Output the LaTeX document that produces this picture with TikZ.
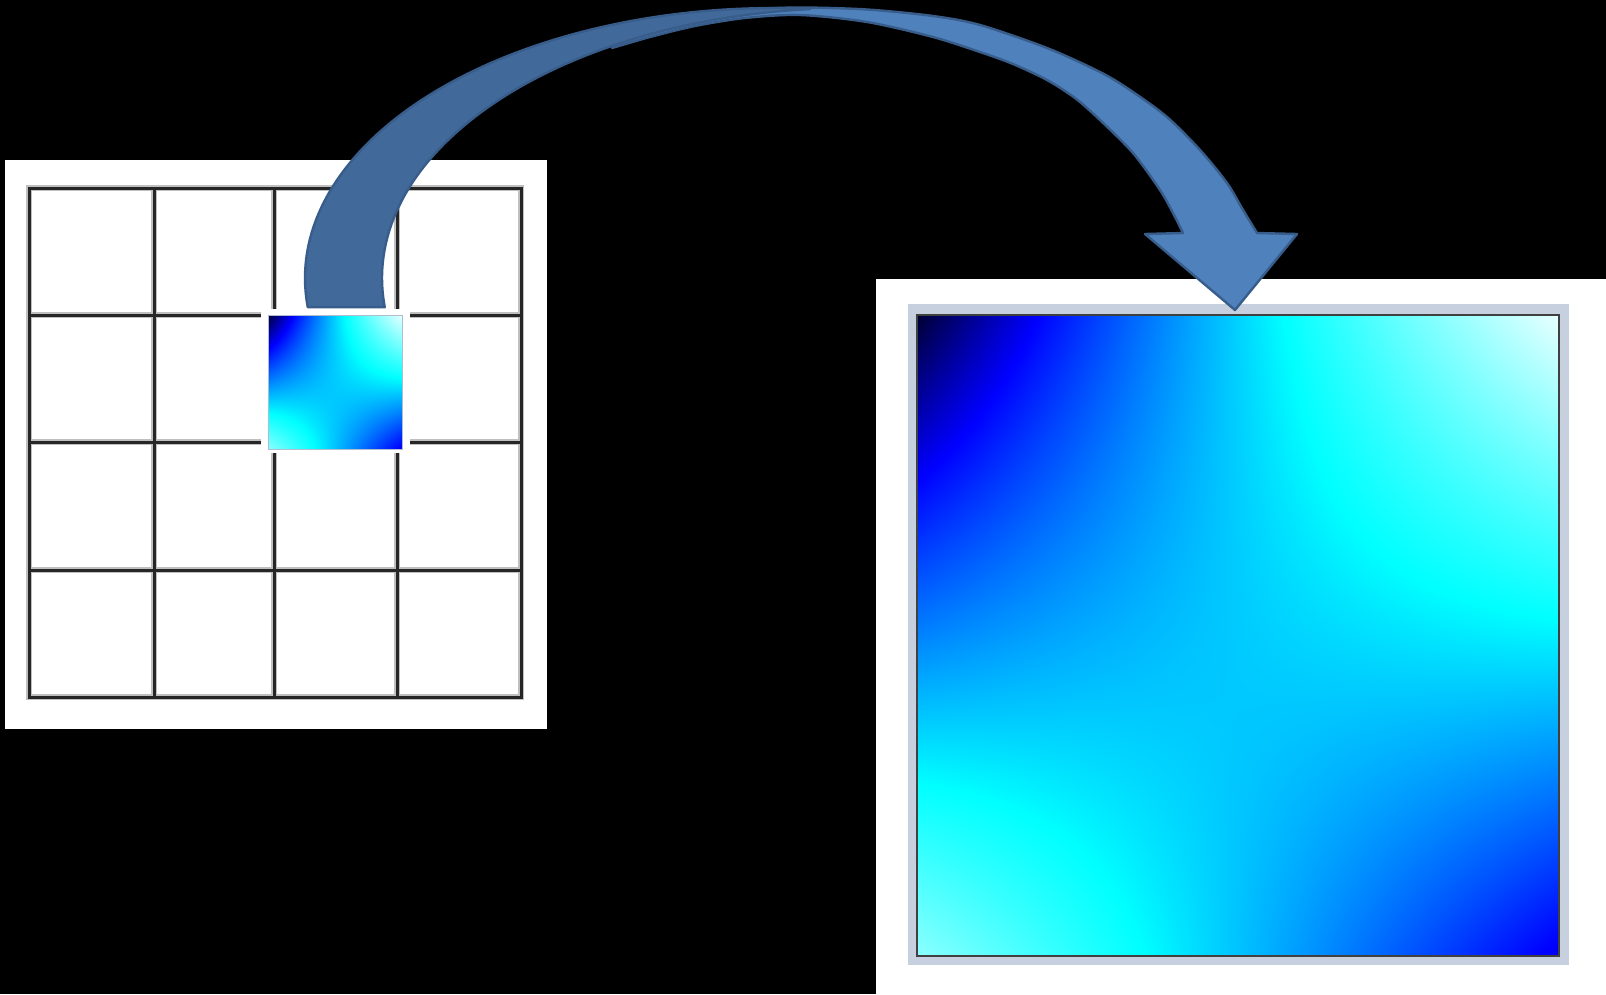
\documentclass[tikz,border=0pt]{standalone}
\definecolor{darkband}{HTML}{41699A}
\definecolor{lightband}{HTML}{4F81BD}
\definecolor{arrowline}{HTML}{385D8A}
\definecolor{framecol}{HTML}{C6D0DE}
\definecolor{smallframe}{HTML}{AFBDCF}
\pgfdeclarefunctionalshading{heatsq}{\pgfpoint{-50bp}{-50bp}}{\pgfpoint{50bp}{50bp}}{}{
25 add 50 div exch 25 add 50 div
2 copy dup 1 exch sub mul mul 0.2 mul
3 1 roll
2 copy mul 3 1 roll
-0.65 mul 0.85 add
exch 1 exch sub mul add
add
dup 0.62 sub 2.4 mul
dup 0 lt {pop 0} if dup 1 gt {pop 1} if
exch
dup 0.22 sub 2.5 mul
dup 0 lt {pop 0} if dup 1 gt {pop 1} if
exch
3.64 mul 0.2 add
dup 0 lt {pop 0} if dup 1 gt {pop 1} if
}
\begin{document}
\begin{tikzpicture}[x=1pt,y=-1pt,
  gridhalo/.style={line width=5.5pt, draw=black!25, line cap=rect},
  gridline/.style={line width=3pt, draw=black!85, line cap=rect},
  bandstyle/.style={draw=arrowline, line width=2.4pt, line join=round},
]
\fill[black] (0,0) rectangle (1606,994);
\useasboundingbox (0,0) rectangle (1606,994);
% left panel with 4x4 grid
\fill[white] (5,160) rectangle (547,729);
\foreach \v in {29,154,274,397,521}{\draw[gridhalo] (\v,188) -- (\v,697);}
\foreach \h in {188,315,442,570,697}{\draw[gridhalo] (29,\h) -- (521,\h);}
\foreach \v in {29,154,274,397,521}{\draw[gridline] (\v,188) -- (\v,697);}
\foreach \h in {188,315,442,570,697}{\draw[gridline] (29,\h) -- (521,\h);}
% small gradient cell
\fill[white] (261,309) rectangle (410,453);
\shade[shading=heatsq] (268,315) rectangle (402,449);
\draw[smallframe, line width=1pt] (268,315) rectangle (402,449);
\coordinate (small) at (335,382);
% right panel with enlarged gradient
\fill[white] (876,279) rectangle (1606,994);
\fill[framecol] (908,304) rectangle (1569,965);
\shade[shading=heatsq] (917,315) rectangle (1559,956);
\draw[black!75, line width=1.3pt] (917,315) rectangle (1559,956);
\coordinate (big) at (1238,635);
% curved arrow: front (light) band with head
\filldraw[fill=lightband, bandstyle]
  plot[smooth, tension=0.5] coordinates {(690,14) (745,9.5) (800,7.5) (867,9.5) (933,16) (980,25) (1047,48) (1100,72) (1130,90) (1167,117) (1200,150) (1227,183) (1243,210) (1257,233)}
  -- (1297,234) -- (1235,310) -- (1145,234) -- (1183,233)
  -- plot[smooth, tension=0.5] coordinates {(1183,233) (1173,213) (1160,190) (1133,153) (1100,120) (1075,98) (1047,80) (1013,64) (980,52) (933,37) (867,22) (800,15) (745,18) (695,26) (650,37) (612,48)}
  -- cycle;
% back (dark) band from the tail
\filldraw[fill=darkband, bandstyle]
  plot[domain=186.2:85.7, samples=90, variable=\t] ({775+470*cos(\t)},{278-270*sin(\t)})
  -- plot[domain=95.1:186.2, samples=90, variable=\t] ({852+470*cos(\t)},{278-270*sin(\t)})
  -- cycle;
\end{tikzpicture}
\end{document}
